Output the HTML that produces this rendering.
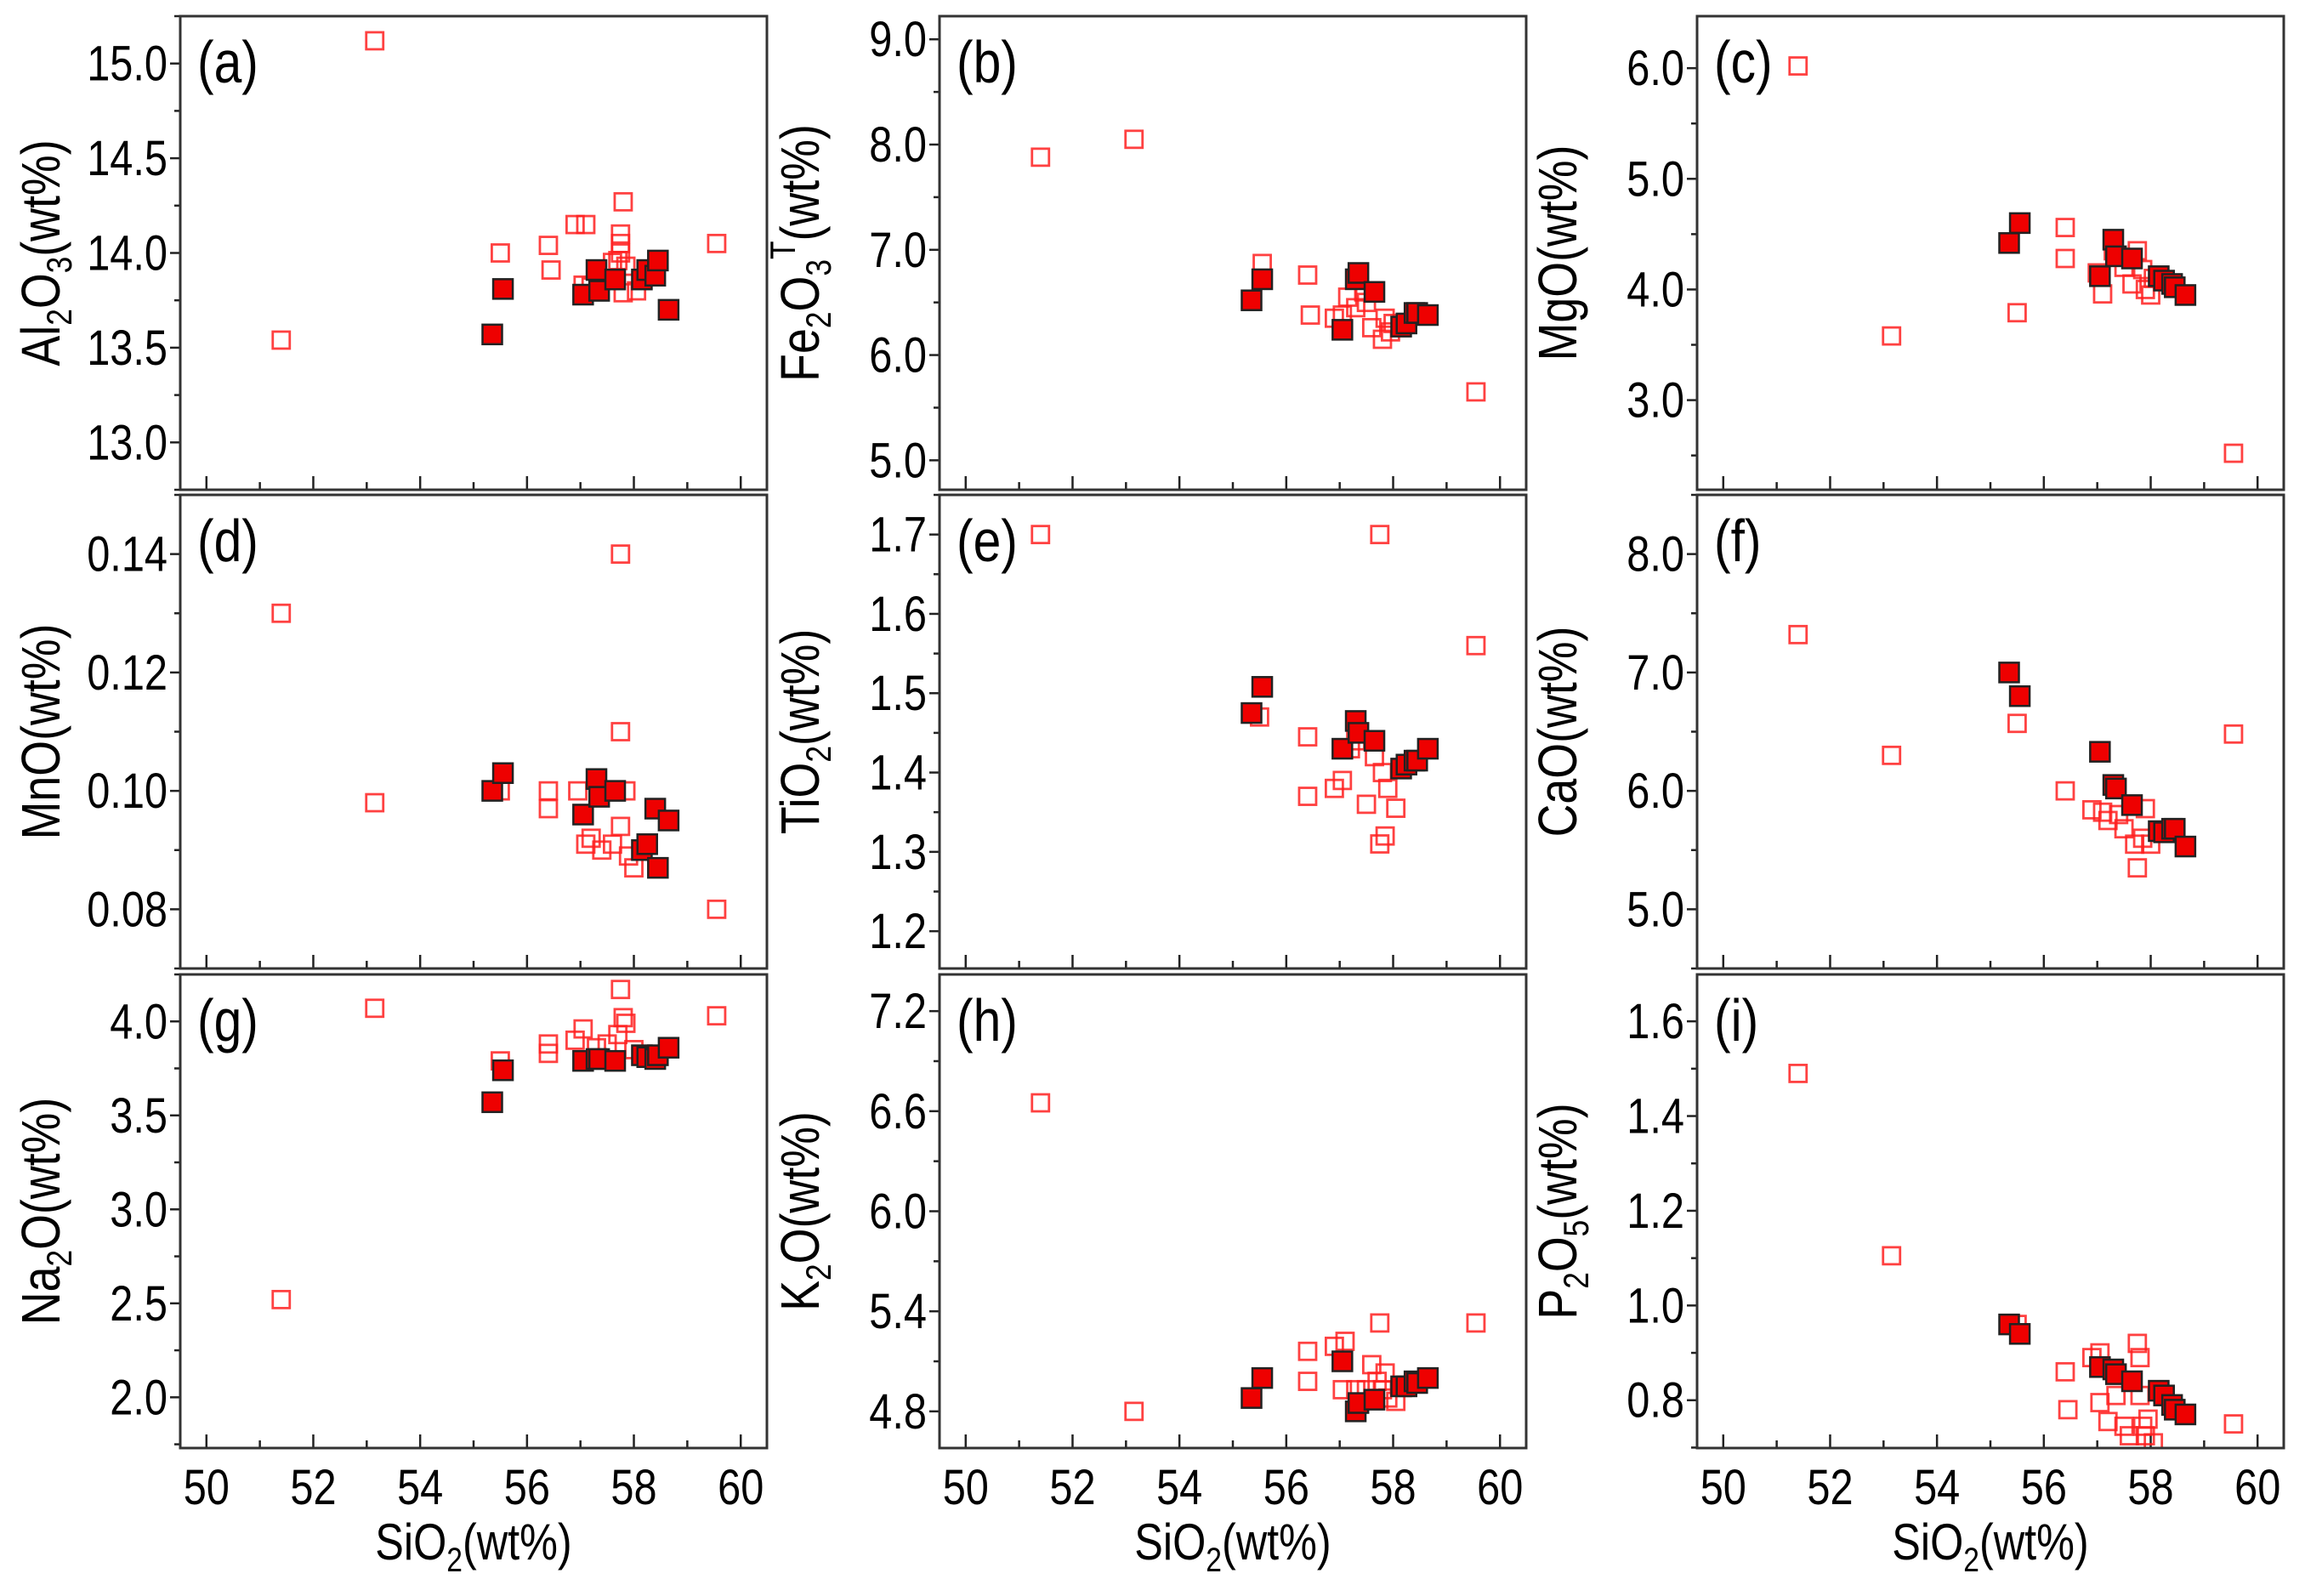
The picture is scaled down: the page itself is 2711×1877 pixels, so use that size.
<!DOCTYPE html>
<html><head><meta charset="utf-8"><style>
html,body{margin:0;padding:0;background:#fff}
svg{display:block}
text{font-family:"Liberation Sans",Arial,sans-serif;fill:#000}
</style></head><body>
<svg id="chart" width="2711" height="1877" viewBox="0 0 2711 1877" xmlns="http://www.w3.org/2000/svg"></svg>
<script>
const xTicks=[50,52,54,56,58,60];
const filledX=[55.35,55.55,57.05,57.3,57.35,57.65,58.15,58.25,58.4,58.45,58.65];
const panelLabels=['(a)','(b)','(c)','(d)','(e)','(f)','(g)','(h)','(i)'];
const yRanges=[[12.75,15.25],[4.72,9.22],[2.19,6.47],[0.07,0.15],[1.153,1.75],[4.5,8.5],[1.73,4.25],[4.58,7.42],[0.699,1.699]];
const yTickVals=[[13.0,13.5,14.0,14.5,15.0],[5,6,7,8,9],[3,4,5,6],[0.08,0.10,0.12,0.14],[1.2,1.3,1.4,1.5,1.6,1.7],[5,6,7,8],[2.0,2.5,3.0,3.5,4.0],[4.8,5.4,6.0,6.6,7.2],[0.8,1.0,1.2,1.4,1.6]];
const yTickLabels=[['13.0','13.5','14.0','14.5','15.0'],['5.0','6.0','7.0','8.0','9.0'],['3.0','4.0','5.0','6.0'],['0.08','0.10','0.12','0.14'],['1.2','1.3','1.4','1.5','1.6','1.7'],['5.0','6.0','7.0','8.0'],['2.0','2.5','3.0','3.5','4.0'],['4.8','5.4','6.0','6.6','7.2'],['0.8','1.0','1.2','1.4','1.6']];
const yMinorStep=[0.25,0.5,0.5,0.01,0.05,0.5,0.25,0.3,0.1];
const yTitles=[['Al','2','O','3','','(wt%)'],['Fe','2','O','3','T','(wt%)'],['MgO','','','','','(wt%)'],['MnO','','','','','(wt%)'],['TiO','2','','','','(wt%)'],['CaO','','','','','(wt%)'],['Na','2','O','','','(wt%)'],['K','2','O','','','(wt%)'],['P','2','O','5','','(wt%)']];
const filledY=[
[13.57,13.81,13.78,13.91,13.80,13.86,13.86,13.91,13.88,13.96,13.70],
[6.52,6.72,6.24,6.72,6.78,6.60,6.27,6.30,6.40,6.40,6.38],
[4.42,4.60,4.12,4.45,4.30,4.28,4.12,4.08,4.05,4.02,3.95],
[0.100,0.103,0.096,0.102,0.099,0.100,0.090,0.091,0.097,0.087,0.095],
[1.475,1.508,1.43,1.465,1.45,1.44,1.405,1.41,1.415,1.415,1.43],
[7.0,6.8,6.33,6.05,6.02,5.88,5.66,5.65,5.68,5.68,5.53],
[3.57,3.74,3.79,3.80,3.80,3.79,3.82,3.81,3.80,3.82,3.86],
[4.88,5.0,5.1,4.8,4.85,4.87,4.95,4.95,4.98,4.97,5.0],
[0.96,0.94,0.87,0.865,0.855,0.84,0.82,0.81,0.79,0.78,0.77]];
const hollowA=[[51.4,13.54],[53.15,15.12],[55.5,14.0],[56.4,14.04],[56.45,13.91],[56.9,14.15],[57.1,14.15],[57.75,14.1],[57.75,14.05],[57.8,14.27],[57.75,14.0],[57.7,13.96],[57.85,13.93],[57.6,13.95],[57.05,13.83],[57.2,13.82],[57.8,13.79],[58.05,13.8],[59.55,14.05]];
const hollowB=[[51.4,7.88],[53.15,8.05],[55.55,6.87],[56.4,6.76],[56.45,6.38],[56.9,6.35],[57.05,6.38],[57.15,6.55],[57.3,6.45],[57.5,6.5],[57.6,6.26],[57.8,6.15],[57.85,6.35],[57.95,6.22],[58.0,6.3],[57.45,6.6],[59.55,5.65]];
const hollowC=[[51.4,6.02],[53.15,3.58],[55.5,3.79],[56.4,4.56],[56.4,4.28],[57.0,4.15],[57.1,3.96],[57.3,4.35],[57.5,4.2],[57.65,4.05],[57.75,4.35],[57.85,4.18],[58.0,3.95],[58.05,4.1],[57.9,4.0],[59.55,2.52]];
const hollowD=[[51.4,0.130],[53.15,0.098],[55.5,0.100],[56.4,0.100],[56.4,0.097],[56.95,0.100],[57.1,0.091],[57.2,0.092],[57.4,0.090],[57.6,0.091],[57.75,0.140],[57.75,0.110],[57.75,0.094],[57.9,0.089],[58.0,0.087],[57.85,0.100],[59.55,0.080]];
const hollowE=[[51.4,1.70],[55.5,1.47],[56.4,1.445],[56.4,1.37],[56.9,1.38],[57.05,1.39],[57.2,1.43],[57.3,1.44],[57.5,1.36],[57.65,1.42],[57.75,1.31],[57.8,1.40],[57.85,1.32],[57.9,1.38],[58.05,1.355],[57.75,1.70],[59.55,1.56]];
const hollowF=[[51.4,7.32],[53.15,6.30],[55.5,6.57],[56.4,6.0],[56.9,5.84],[57.1,5.82],[57.2,5.75],[57.4,5.8],[57.5,5.68],[57.7,5.55],[57.75,5.35],[57.85,5.6],[57.9,5.85],[58.0,5.55],[59.55,6.48]];
const hollowG=[[51.4,2.52],[53.15,4.07],[55.5,3.79],[56.4,3.88],[56.4,3.83],[56.9,3.9],[57.05,3.96],[57.3,3.86],[57.5,3.88],[57.75,4.17],[57.8,4.02],[57.85,3.99],[57.7,3.93],[58.0,3.85],[59.55,4.03]];
const hollowH=[[51.4,6.65],[53.15,4.8],[56.4,5.16],[56.4,4.98],[56.9,5.19],[57.05,4.93],[57.1,5.22],[57.3,4.93],[57.5,4.93],[57.6,5.08],[57.75,5.33],[57.8,4.93],[57.85,5.03],[57.9,4.88],[58.05,4.86],[57.7,4.98],[59.55,5.33]];
const hollowI=[[51.4,1.49],[53.15,1.105],[55.5,0.96],[56.4,0.86],[56.45,0.78],[56.9,0.89],[57.05,0.90],[57.05,0.795],[57.2,0.755],[57.35,0.81],[57.5,0.745],[57.6,0.725],[57.75,0.92],[57.8,0.89],[57.8,0.81],[57.85,0.745],[57.95,0.76],[57.9,0.725],[58.05,0.71],[59.55,0.75]];
const hollowAll=[hollowA,hollowB,hollowC,hollowD,hollowE,hollowF,hollowG,hollowH,hollowI];

const NS='http://www.w3.org/2000/svg';
const svg=document.getElementById('chart');
function mk(tag,attrs,parent){const e=document.createElementNS(NS,tag);for(const k in attrs)e.setAttribute(k,attrs[k]);(parent||svg).appendChild(e);return e;}
const SX=0.84;
function ntext(parent,x,y,size,anchor,str,rot){
  const t=mk('text',{x:0,y:0,'font-size':size,'text-anchor':anchor,transform:`translate(${x},${y})${rot?' rotate(-90)':''} scale(${SX},1)`},parent);
  if(str!==null)t.textContent=str;
  return t;
}
const colL=[212,1105,1996], rowT=[19,582,1146], W=690, H=557;
const xMin=49.51,xMax=60.49;
for(let p=0;p<9;p++){
  const c=p%3,r=Math.floor(p/3);
  const L=colL[c],T=rowT[r];
  const [y0,y1]=yRanges[p];
  const sx=v=>L+(v-xMin)/(xMax-xMin)*W;
  const sy=v=>T+H-(v-y0)/(y1-y0)*H;
  const g=mk('g',{});
  
  
  const cp=mk('clipPath',{id:'cp'+p},g);mk('rect',{x:L,y:T,width:W,height:H},cp);
  for(let v=50;v<=60.001;v+=1){
    const isMaj=Math.abs(v%2)<1e-6;
    const t=mk('line',{x1:sx(v),x2:sx(v),y1:T+H,y2:T+H-(isMaj?16:9),stroke:'#222','stroke-width':2.5},g);
    
    
  }
  if(r===2){
    xTicks.forEach(v=>{const t=ntext(g,sx(v),T+H+66,58,'middle',String(v));
      
      });
  }
  const ms=yMinorStep[p];
  for(let k=Math.ceil(y0/ms-1e-6);k*ms<=y1+1e-9;k++){
    const v=k*ms;const isMaj=yTickVals[p].some(m=>Math.abs(m-v)<1e-6);
    const t=mk('line',{x1:L,x2:L-(isMaj?12:7),y1:sy(v),y2:sy(v),stroke:'#222','stroke-width':2.5},g);
    
    
  }
  yTickVals[p].forEach((v,i)=>{const t=ntext(g,L-15,sy(v)+20,58,'end',yTickLabels[p][i]);
    
    });
  const yt=yTitles[p];
  const tt=ntext(g,L-142,T+H/2,64,'middle',null,true);
  
  
  const parts=[[yt[0],0],[yt[1],1],[yt[2],0],[yt[3],1],[yt[4],2],[yt[5],0]];
  let shift=0;
  parts.forEach(([s,kind])=>{if(!s)return;const ts=mk('tspan',{},tt);
    if(kind===1){ts.setAttribute('font-size',42);ts.setAttribute('dy',14-shift);shift=14;}
    else if(kind===2){ts.setAttribute('font-size',42);ts.setAttribute('dy',-28-shift);shift=-28;}
    else{ts.setAttribute('dy',-shift);shift=0;}
    ts.textContent=s;});
  const pl=ntext(g,L+20,T+78,70,'start',panelLabels[p]);
  
  
  const pg=mk('g',{'clip-path':`url(#cp${p})`},g);
  hollowAll[p].forEach(([x,y])=>{const s=20;const m=mk('rect',{x:sx(x)-s/2,y:sy(y)-s/2,width:s,height:s,fill:'none',stroke:'#ff2020','stroke-opacity':0.85,'stroke-width':2.8},pg);
    
    });
  filledX.forEach((x,i)=>{const s=23;const m=mk('rect',{x:sx(x)-s/2,y:sy(filledY[p][i])-s/2,width:s,height:s,fill:'#ee0000',stroke:'#222','stroke-width':2.5},pg);
    
    });
  const fr=mk('rect',{x:L,y:T,width:W,height:H,fill:'none',stroke:'#333','stroke-width':3},g);
  
  
}
colL.forEach(L=>{const t=ntext(svg,L+W/2,1834,60,'middle',null);
  
  
  const a=mk('tspan',{},t);a.textContent='SiO';const b=mk('tspan',{'font-size':40,dy:14},t);b.textContent='2';const c=mk('tspan',{dy:-14},t);c.textContent='(wt%)';});
</script>
</body></html>
